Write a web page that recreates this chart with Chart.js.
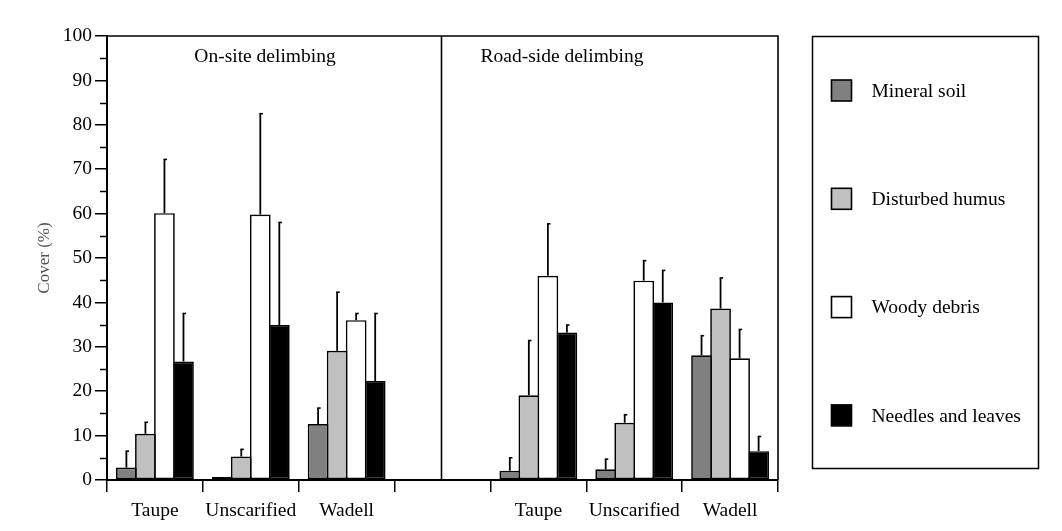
<!DOCTYPE html>
<html>
<head>
<meta charset="utf-8">
<title>Ground cover after delimbing</title>
<script src="https://cdn.jsdelivr.net/npm/chart.js@4.4.1/dist/chart.umd.min.js"></script>
<style>
  html, body { margin: 0; padding: 0; background: #fff; }
  #wrap { width: 1062px; height: 531px; }
</style>
</head>
<body>
<div id="wrap"><canvas id="cover" width="1062" height="531"></canvas></div>
<script>
// Site preparation methods; the blank slot separates the two delimbing panels
const categories = ['Taupe', 'Unscarified', 'Wadell', '', 'Taupe', 'Unscarified', 'Wadell'];
const panelTitles = ['On-site delimbing', 'Road-side delimbing'];
const seriesNames = ['Mineral soil', 'Disturbed humus', 'Woody debris', 'Needles and leaves'];

// Mean cover (%) per category
const mineralSoil      = [2.8, 0.7, 12.6, null, 2.1, 2.4, 28.1];
const disturbedHumus   = [10.4, 5.3, 29.1, null, 19.1, 12.9, 38.6];
const woodyDebris      = [60.1, 59.8, 36.0, null, 46.0, 44.9, 27.4];
const needlesLeaves    = [26.7, 34.9, 22.3, null, 33.2, 40.0, 6.5];

// Upper error (SD) per category
const mineralSoilSD    = [3.7, 0, 3.6, null, 2.9, 2.3, 4.4];
const disturbedHumusSD = [2.6, 1.6, 13.2, null, 12.3, 1.8, 6.9];
const woodyDebrisSD    = [12.1, 22.7, 1.5, null, 11.7, 4.5, 6.5];
const needlesLeavesSD  = [10.8, 23.1, 15.2, null, 1.7, 7.2, 3.3];

// Axis ticks
const yTickValues  = [0, 10, 20, 30, 40, 50, 60, 70, 80, 90, 100];
const yMinorValues = [5, 15, 25, 35, 45, 55, 65, 75, 85, 95];

const FONT = "'Liberation Serif', 'Times New Roman', serif";
const FONT_SIZE = 19.5;
const BORDER = 1.7;

Chart.defaults.font.family = FONT;
Chart.defaults.font.size = FONT_SIZE;
Chart.defaults.color = '#000';

const fills = ['#808080', '#c0c0c0', '#ffffff', '#000000'];

function makeSet(i, data, sd) {
  return {
    label: seriesNames[i],
    data: data,
    errorPlus: sd,
    backgroundColor: fills[i],
    borderColor: '#000',
    borderWidth: BORDER,
    borderSkipped: false,
    // slightly wider than the slot so neighbouring bars share one outline
    barPercentage: 1.089,
    categoryPercentage: 0.794
  };
}

// Upward error bars with a small cap
const errorBars = {
  id: 'errorBars',
  afterDatasetsDraw(chart) {
    const ctx = chart.ctx;
    const y = chart.scales.y;
    chart.data.datasets.forEach((ds, di) => {
      const meta = chart.getDatasetMeta(di);
      meta.data.forEach((bar, i) => {
        const v = ds.data[i];
        const e = ds.errorPlus[i];
        if (v == null || !e) return;
        const top = y.getPixelForValue(v + e);
        ctx.save();
        ctx.strokeStyle = '#000';
        ctx.lineWidth = 1.8;
        ctx.beginPath();
        ctx.moveTo(bar.x, bar.y);
        ctx.lineTo(bar.x, top);
        ctx.stroke();
        ctx.lineWidth = 1.6;
        ctx.beginPath();
        ctx.moveTo(bar.x - 0.9, top);
        ctx.lineTo(bar.x + 2.6, top);
        ctx.stroke();
        ctx.restore();
      });
    });
  }
};

// Plot frame, panel divider, minor y ticks and panel titles
const frame = {
  id: 'frame',
  afterDraw(chart) {
    const ctx = chart.ctx;
    const a = chart.chartArea;
    const x = chart.scales.x;
    const y = chart.scales.y;
    ctx.save();
    ctx.strokeStyle = '#000';
    ctx.lineWidth = 1.6;
    ctx.beginPath();
    ctx.moveTo(a.left, a.top);
    ctx.lineTo(a.right, a.top);
    ctx.lineTo(a.right, a.bottom);
    ctx.stroke();

    // divider in the middle of the blank slot
    const dx = Math.round(x.getPixelForValue(3) - 2) + 0.5;
    ctx.beginPath();
    ctx.moveTo(dx, a.top);
    ctx.lineTo(dx, a.bottom);
    ctx.stroke();

    // minor ticks
    ctx.lineWidth = 1.5;
    yMinorValues.forEach(v => {
      const py = Math.round(y.getPixelForValue(v)) + 0.5;
      ctx.beginPath();
      ctx.moveTo(a.left - 7, py);
      ctx.lineTo(a.left, py);
      ctx.stroke();
    });

    // panel titles
    ctx.fillStyle = '#000';
    ctx.font = FONT_SIZE + 'px ' + FONT;
    ctx.textAlign = 'center';
    ctx.textBaseline = 'middle';
    ctx.fillText(panelTitles[0], a.left + 158, a.top + 21);
    ctx.fillText(panelTitles[1], a.left + 455, a.top + 21);
    ctx.restore();
  }
};

// Boxed legend to the right of the plot
const boxLegend = {
  id: 'boxLegend',
  afterDraw(chart) {
    const ctx = chart.ctx;
    const bx = 812.5, by = 36.5, bw = 226, bh = 432;
    ctx.save();
    ctx.strokeStyle = '#000';
    ctx.lineWidth = 1.5;
    ctx.strokeRect(bx, by, bw, bh);
    ctx.font = FONT_SIZE + 'px ' + FONT;
    ctx.textAlign = 'left';
    ctx.textBaseline = 'middle';
    chart.data.datasets.forEach((ds, i) => {
      const cy = by + 54 + i * 108.3;
      ctx.fillStyle = ds.backgroundColor;
      ctx.fillRect(bx + 19, cy - 10.5, 20, 21);
      ctx.lineWidth = 1.6;
      ctx.strokeStyle = '#000';
      ctx.strokeRect(bx + 19, cy - 10.5, 20, 21);
      ctx.fillStyle = '#000';
      ctx.fillText(ds.label, bx + 59, cy + 1);
    });
    ctx.restore();
  }
};

new Chart(document.getElementById('cover'), {
  type: 'bar',
  data: {
    labels: categories,
    datasets: [
      makeSet(0, mineralSoil, mineralSoilSD),
      makeSet(1, disturbedHumus, disturbedHumusSD),
      makeSet(2, woodyDebris, woodyDebrisSD),
      makeSet(3, needlesLeaves, needlesLeavesSD)
    ]
  },
  options: {
    responsive: false,
    animation: false,
    devicePixelRatio: 1,
    layout: { padding: { top: 36, right: 284, bottom: 0, left: 0 } },
    plugins: {
      legend: { display: false },
      tooltip: { enabled: false }
    },
    scales: {
      x: {
        offset: true,
        grid: {
          offset: true,
          drawOnChartArea: false,
          drawTicks: true,
          tickLength: 12,
          color: '#000',
          lineWidth: 1.5
        },
        border: { display: true, color: '#000', width: 2 },
        ticks: { autoSkip: false, maxRotation: 0, minRotation: 0, padding: 7, color: '#000' },
        afterFit(scale) { scale.height = 51; }
      },
      y: {
        min: 0,
        max: 100,
        afterBuildTicks(scale) { scale.ticks = yTickValues.map(v => ({ value: v })); },
        grid: {
          drawOnChartArea: false,
          drawTicks: true,
          tickLength: 12,
          color: '#000',
          lineWidth: 1.5
        },
        border: { display: true, color: '#000', width: 2 },
        ticks: { padding: 3, color: '#000' },
        title: {
          display: true,
          text: 'Cover (%)',
          color: '#555',
          font: { size: 17, family: FONT },
          padding: { top: 34, bottom: 0 }
        },
        afterFit(scale) { scale.width = 107; }
      }
    }
  },
  plugins: [errorBars, frame, boxLegend]
});
</script>
</body>
</html>
